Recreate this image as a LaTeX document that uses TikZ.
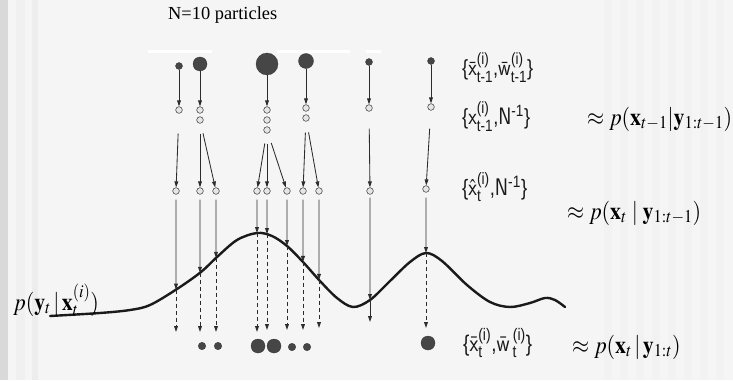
\documentclass[tikz,border=0pt]{standalone}
\usepackage{graphicx}
\usepackage{amsmath}
\usepackage{mathptmx}
\usepackage{fontspec}
\setmainfont{Liberation Serif}
\setsansfont{Liberation Sans}
\newfontfamily\titlefont{Liberation Serif}
\newfontfamily\labsans{Liberation Sans}
\usetikzlibrary{arrows.meta,intersections}
\definecolor{bgc}{HTML}{F5F5F5}
\definecolor{ink}{HTML}{2C2C2C}
\definecolor{dotc}{HTML}{464646}
\definecolor{opfill}{HTML}{E6E6E6}
\definecolor{curvec}{HTML}{1A1A1A}
\tikzset{
  arr/.style={draw=ink, line width=0.85pt, -{Triangle[length=6pt,width=3.8pt]}},
  darr/.style={arr, dash pattern=on 4pt off 3pt},
  opendot/.style={circle, draw=ink!85, fill=opfill, line width=0.6pt, inner sep=0pt, minimum size=6.6pt},
  fdot/.style={circle, fill=dotc, draw=dotc!70!black, line width=0.3pt, inner sep=0pt},
  curvestyle/.style={line width=2.4pt, draw=curvec, line cap=round},
  sflab/.style={anchor=west, inner sep=0pt, text=black!90},
  mathlab/.style={anchor=west, inner sep=0pt, text=black},
}
\newcommand{\fitw}[2]{\resizebox{#1}{!}{#2}}
\newcommand{\sflabel}[2]{\resizebox{#1}{!}{\scalebox{1}[1.2]{\labsans\fontsize{16}{18}\selectfont #2}}}
\newcommand{\mlabel}[1]{\scalebox{\afac}{\scalebox{0.9}[1]{\fontsize{22}{26}\selectfont #1}}}
\newlength{\natA}
\begin{document}
\begin{tikzpicture}[x=1pt,y=-1pt]
\settowidth{\natA}{\fontsize{22}{26}\selectfont$\approx p(\mathbf{x}_{t-1}|\mathbf{y}_{1{:}t-1})$}
\pgfmathsetmacro{\afac}{145/(0.9*\natA)}
% background
\fill[bgc] (0,0) rectangle (733,380);
\useasboundingbox (0,0) rectangle (733,380);
\fill[black!15] (0,0) rectangle (8,380);
\fill[black!6] (16,0) rectangle (25,380);
\fill[black!7] (32,0) rectangle (38,380);
\foreach \s in {604,620,...,724} \fill[black!5] (\s,0) rectangle (\s+8,380);
\fill[white] (148,50) rectangle (212,53);
\fill[white] (277,50) rectangle (350,53);
\fill[white] (366,50) rectangle (381,53);

% title
\node[anchor=west, inner sep=0pt] (title) at (168,15) {\fitw{109pt}{\titlefont\fontsize{18}{20}\selectfont N=10 particles}};

% top row weighted particles
\node[fdot, minimum size=7pt]  (t1) at (179,66) {};
\node[fdot, minimum size=14pt] (t2) at (200,64) {};
\node[fdot, minimum size=22pt] (t3) at (267,64) {};
\node[fdot, minimum size=15pt] (t4) at (306,61) {};
\node[fdot, minimum size=7pt]  (t5) at (369,62) {};
\node[fdot, minimum size=7pt]  (t6) at (431,61) {};

% resampled particles
\node[opendot] (s1)  at (179,110) {};
\node[opendot] (s2a) at (200,110) {};
\node[opendot] (s2b) at (200,120) {};
\node[opendot] (s3a) at (267,110) {};
\node[opendot] (s3b) at (267,120) {};
\node[opendot] (s3c) at (267,130) {};
\node[opendot] (s4a) at (306,108) {};
\node[opendot] (s4b) at (306,118) {};
\node[opendot] (s5)  at (369,108) {};
\node[opendot] (s6)  at (431,107) {};

\draw[arr] (t1) -- (s1);
\draw[arr] (t2) -- (s2a);
\draw[arr] (t3) -- (s3a);
\draw[arr] (t4) -- (s4a);
\draw[arr] (t5) -- (s5);
\draw[arr] (t6) -- (s6);

% predicted particles
\foreach \i/\x/\y in {1/176/191,2/200/191,3/216/191,4/257/191,5/267/191,6/287/191,7/303/191,8/319/191,9/370/191,10/426/189}
  \node[opendot] (r\i) at (\x,\y) {};

\draw[arr, shorten <=20pt] (s1) -- (r1);
\draw[arr, shorten <=10pt] (s2b) -- (r2);
\draw[arr, shorten <=10pt] (s2b) -- (r3);
\draw[arr, shorten <=10pt] (s3c) -- (r4);
\draw[arr, shorten <=10pt] (s3c) -- (r5);
\draw[arr, shorten <=10pt] (s3c) -- (r6);
\draw[arr, shorten <=11pt] (s4b) -- (r7);
\draw[arr, shorten <=11pt] (s4b) -- (r8);
\draw[arr, shorten <=17pt] (s5) -- (r9);
\draw[arr, shorten <=18pt] (s6) -- (r10);

% likelihood curve
\draw[curvestyle, name path=crv] plot[smooth, tension=0.55] coordinates {
  (50,316) (100,313) (130,310) (150,305) (177,289) (201,272) (217,257) (237,240)
  (257,233) (272,236) (287,246) (303,262) (320,281) (337,298) (353,307) (370,300)
  (390,281) (410,262) (426,253) (442,261) (467,285) (490,302) (510,307) (530,303)
  (545,298) (555,300) (565,307)};

% weighting: solid to curve, dashed below
\foreach \i/\e in {1/332,2/332,3/332,4/332,5/330,6/330,7/330,8/328,10/328}{
  \path[name path=v\i] (r\i.center) -- ++(0,200);
  \path[name intersections={of=crv and v\i, by=c\i}];
  \draw[arr, shorten <=5pt] (r\i) -- (c\i);
  \coordinate (d\i) at (c\i |- 0,\e);
  \draw[darr] (c\i) -- (d\i);
}
\path[name path=v9] (r9.center) -- ++(0,200);
\path[name intersections={of=crv and v9, by=c9}];
\draw[arr, shorten <=3pt] (r9) -- (c9);
\coordinate (d9) at (c9 |- 0,322);
\draw[arr] (c9) -- (d9);

% resampled weighted particles at time t
\node[fdot, minimum size=7.5pt] (b2)  at (202,346) {};
\node[fdot, minimum size=7.5pt] (b3)  at (218,346) {};
\node[fdot, minimum size=14pt]  (b4)  at (258,346) {};
\node[fdot, minimum size=14pt]  (b5)  at (274,346) {};
\node[fdot, minimum size=7.5pt] (b6)  at (292,347) {};
\node[fdot, minimum size=7.5pt] (b7)  at (307,347) {};
\node[fdot, minimum size=14pt]  (b10) at (428,343) {};

% set labels
\node[sflab] (L1) at (462,68) {\sflabel{71pt}{\{$\bar{\mathsf{x}}^{\textsf{(i)}}_{\textsf{t-1}}$,$\bar{\mathsf{w}}^{\textsf{(i)}}_{\textsf{t-1}}$\}}};
\node[sflab] (L2) at (462,117) {\sflabel{68pt}{\{$\mathsf{x}^{\textsf{(i)}}_{\textsf{t-1}}$,$\mathsf{N}^{\textsf{-1}}$\}}};
\node[sflab] (L3) at (462,187) {\sflabel{65pt}{\{$\hat{\mathsf{x}}^{\textsf{(i)}}_{\textsf{t}}$,$\mathsf{N}^{\textsf{-1}}$\}}};
\node[sflab] (L4) at (463,343) {\sflabel{69pt}{\{$\bar{\mathsf{x}}^{\textsf{(i)}}_{\textsf{t}}$,$\bar{\mathsf{w}}^{\;\textsf{(i)}}_{\;\textsf{t}}$\}}};

% approximations
\node[mathlab] (A1) at (587,119) {\mlabel{$\approx p(\mathbf{x}_{t-1}|\mathbf{y}_{1{:}t-1})$}};
\node[mathlab] (A2) at (567,213) {\mlabel{$\approx p(\mathbf{x}_{t}\;|\;\mathbf{y}_{1{:}t-1})$}};
\node[mathlab] (A3) at (572,347) {\mlabel{$\approx p(\mathbf{x}_{t}\,|\,\mathbf{y}_{1{:}t})$}};
\node[mathlab] (LK) at (13,300) {\mlabel{$p(\mathbf{y}_{t}\,|\,\mathbf{x}_{t}^{(i)})$}};
\end{tikzpicture}
\end{document}
